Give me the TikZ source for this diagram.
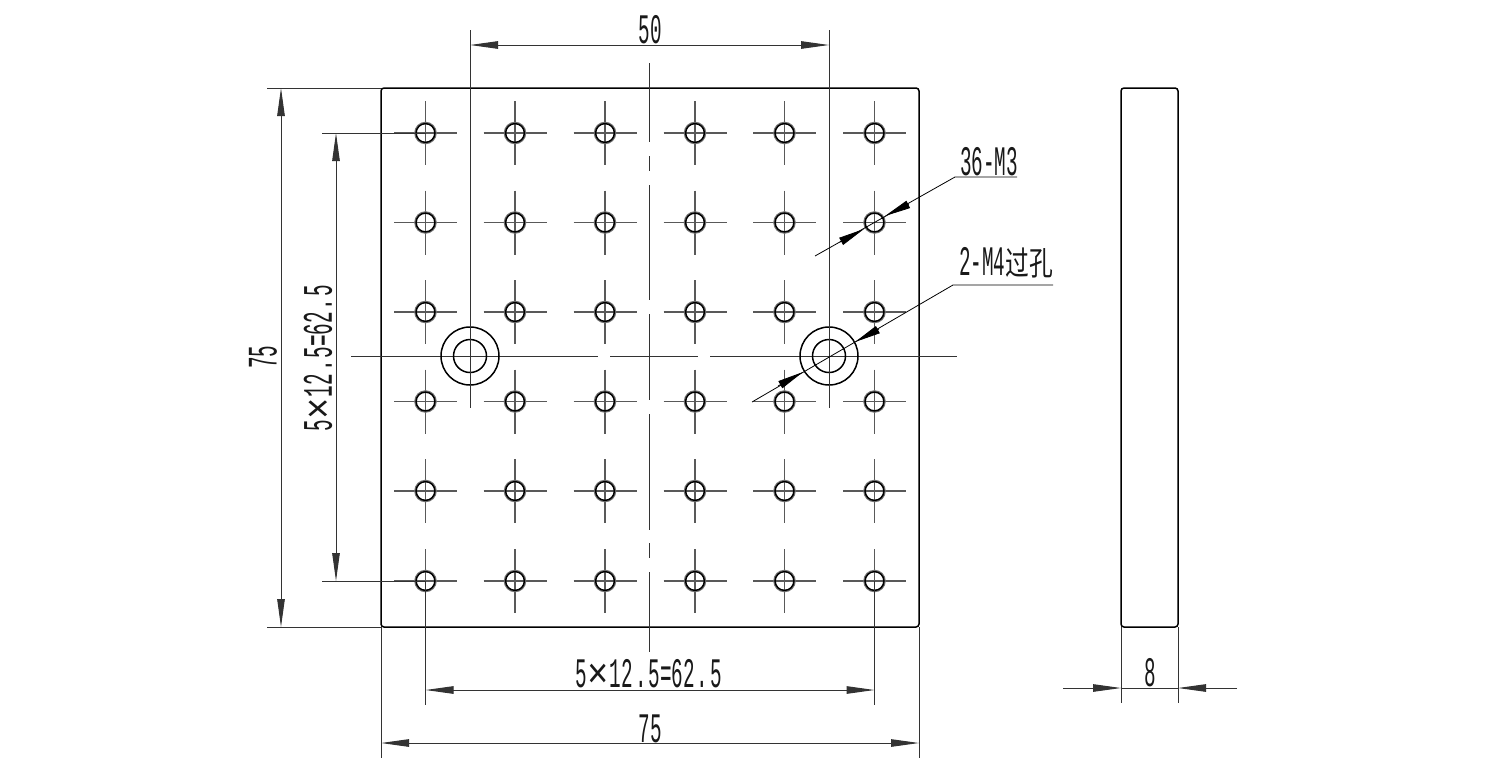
\documentclass[tikz,border=0pt]{standalone}
\usepackage{fontspec}
\usetikzlibrary{arrows.meta}
\newfontfamily\cadfont[FakeStretch=0.46]{Liberation Mono}
\newfontfamily\cadwide[FakeStretch=0.85]{Liberation Mono}
\newfontfamily\cadcjk[FakeStretch=0.72]{Noto Sans CJK SC}
\newcommand{\cadsize}{\fontsize{42pt}{42pt}\selectfont}
\newcommand{\fivetimes}{5\kern0.5pt{\cadwide ×}\kern0.5pt 12\kern2pt.\kern2pt 5=62\kern2pt.\kern2pt 5}
\tikzset{
  outline/.style={line width=1.5pt,black},
  thin line/.style={line width=1pt,black!80},
  axis/.style={line width=1.1pt,black!65},
  hole ring/.style={line width=1.3pt,black!55},
  hole edge/.style={line width=1.5pt,black},
  dim/.style={line width=1pt,black!80,{Triangle[length=28pt,width=7.5pt]}-{Triangle[length=28pt,width=7.5pt]}},
  tip/.style={line width=0.8pt,black,-{Triangle[length=26pt,width=8pt]}},
  label/.style={inner sep=0pt,font=\cadfont\cadsize,text=black!90}
}
\begin{document}
\begin{tikzpicture}[x=1pt,y=-1pt]
\useasboundingbox[fill=white] (0,0) rectangle (1488,774);

% plate and side view
\draw[outline,rounded corners=3pt] (381,88) rectangle (919,627);
\draw[outline,rounded corners=3pt] (1121,88) rectangle (1178,627);

% small holes
\foreach \hy in {133,222.5,312,401.5,491,581}
  \foreach \hx in {425.5,515,605,695,784.5,874.5}{
    \draw[axis] (\hx-31.5,\hy) -- (\hx+31.5,\hy);
    \draw[axis] (\hx,\hy-32) -- (\hx,\hy+32);
    \draw[hole ring] (\hx,\hy) circle (10.6);
    \draw[hole edge] (\hx,\hy) circle (9.4);
  }

% centre lines
\foreach \ya/\yb in {63/142,156/171,185/300,314/400,414/530,543/558,572/652}
  \draw[thin line] (649.5,\ya) -- (649.5,\yb);
\foreach \xa/\xb in {351/598,610/698,710/957}
  \draw[thin line] (\xa,356) -- (\xb,356);

% large holes
\foreach \hx in {470,829}{
  \draw[hole edge] (\hx,356) circle (16.5);
  \draw[hole edge] (\hx,356) circle (29);
}

% extension lines
\draw[thin line] (470,30) -- (470,408);
\draw[thin line] (829,30) -- (829,408);
\draw[thin line] (267,88) -- (381,88);
\draw[thin line] (267,627) -- (381,627);
\draw[thin line] (322,133) -- (425.5,133);
\draw[thin line] (322,581) -- (425.5,581);
\draw[thin line] (425.5,581) -- (425.5,705);
\draw[thin line] (874.5,581) -- (874.5,705);
\draw[thin line] (381,627) -- (381,758);
\draw[thin line] (919,627) -- (919,758);
\draw[thin line] (1121,627) -- (1121,703);
\draw[thin line] (1178,627) -- (1178,703);

% dimension lines
\draw[dim] (470,45) -- (829,45);
\draw[dim] (281,88) -- (281,627);
\draw[dim] (336,133) -- (336,581);
\draw[dim] (425.5,690) -- (874.5,690);
\draw[dim] (381,743) -- (919,743);
\coordinate (wl) at (1121,688);
\coordinate (wr) at (1178,688);
\coordinate (wlo) at (1063,688);
\coordinate (wro) at (1237,688);
\draw[thin line] (wl) -- (wr);
\draw[thin line,-{Triangle[length=28pt,width=7.5pt]}] (wlo) -- (wl);
\draw[thin line,-{Triangle[length=28pt,width=7.5pt]}] (wro) -- (wr);

% leaders
\coordinate (a0) at (815,256);
\coordinate (a1) at (955,177);
\coordinate (a2) at (1017,177);
\draw[line width=0.8pt,black] (a0) -- (a1) -- (a2);
\draw[tip] (840,242) -- (864,229);
\draw[tip] (909,204) -- (885,216);
\coordinate (b0) at (752,402);
\coordinate (b1) at (953,285);
\coordinate (b2) at (1053,285);
\draw[line width=0.8pt,black] (b0) -- (b1) -- (b2);
\draw[tip] (778,386) -- (803,372);
\draw[tip] (879,329) -- (855,342);

% labels
\node[label] (t50) at (650,30) {50};
\node[label,rotate=90] (t75l) at (263,357) {75};
\node[label,rotate=90] (t62l) at (318,358) {\fivetimes};
\node[label] (t62b) at (649,674) {\fivetimes};
\node[label] (t75b) at (650,729) {75};
\node[label] (t8) at (1150,673) {8};
\node[label] (t36) at (989,162) {36-M3};
\node[label] (t2) at (1006,263) {2-M4{\cadcjk\fontsize{33pt}{33pt}\selectfont 过孔}};
\end{tikzpicture}
\end{document}
